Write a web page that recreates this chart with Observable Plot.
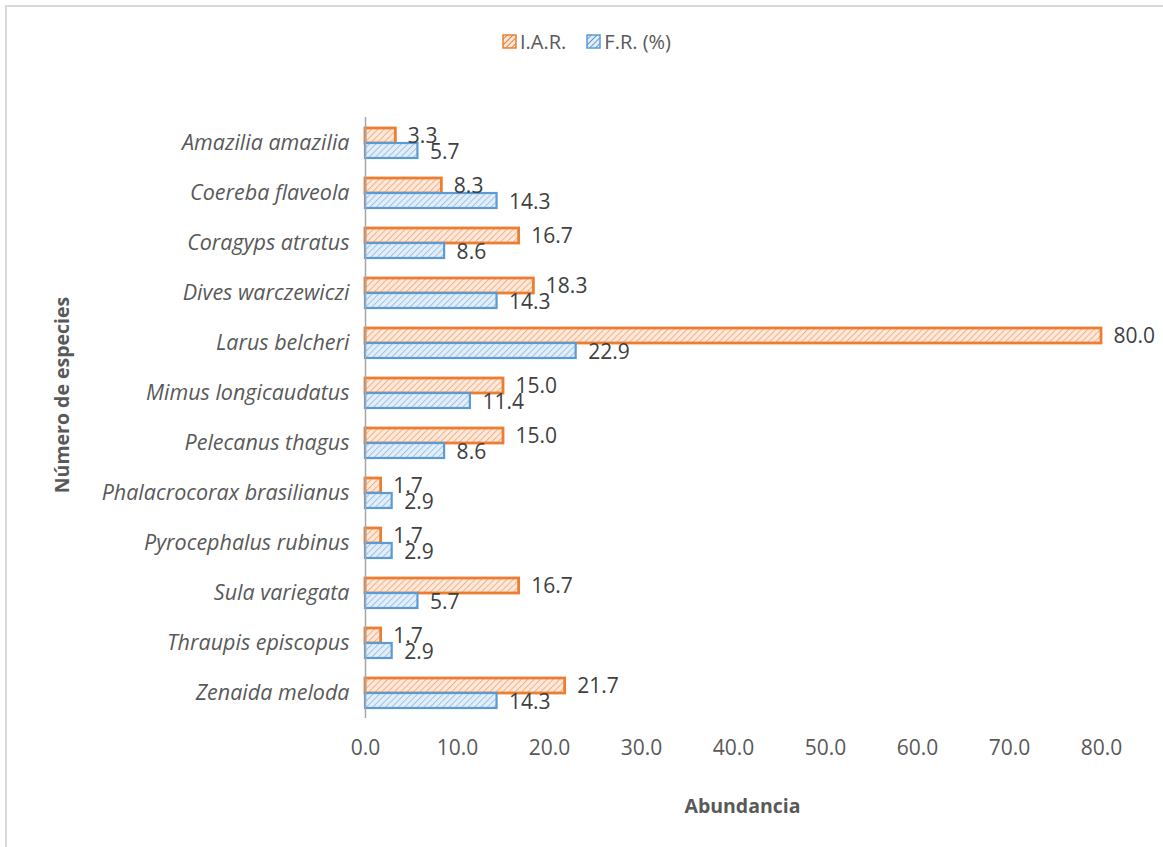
<!DOCTYPE html>
<html>
<head>
<meta charset="utf-8">
<script src="https://cdn.jsdelivr.net/npm/d3@7"></script>
<script src="https://cdn.jsdelivr.net/npm/@observablehq/plot@0.6"></script>
<style>
  body { margin: 0; background: #fff; font-family: "Open Sans", sans-serif; }
  #wrap { position: relative; width: 1163px; height: 847px; overflow: hidden; }
  #border { position: absolute; left: 5px; top: 5px; right: -10px; bottom: -10px; border-left: 2px solid #d9d9d9; border-top: 2px solid #d9d9d9; }
  #legend { position: absolute; top: 28px; left: 0; width: 1163px; display: flex; justify-content: center; gap: 20px; font-size: 20px; color: #595959; padding-left: 10px; box-sizing: border-box; }
  .item { display: flex; align-items: center; gap: 3px; }
  #chart { position: absolute; top: 80px; left: 0; }
</style>
</head>
<body>
<div id="wrap">
  <div id="border"></div>
  <div id="legend"></div>
  <div id="chart"></div>
</div>
<script>
const species = ["Amazilia amazilia","Coereba flaveola","Coragyps atratus","Dives warczewiczi","Larus belcheri","Mimus longicaudatus","Pelecanus thagus","Phalacrocorax brasilianus","Pyrocephalus rubinus","Sula variegata","Thraupis episcopus","Zenaida meloda"];
const series = ["I.A.R.", "F.R. (%)"];
const iar = [3.3, 8.3, 16.7, 18.3, 80.0, 15.0, 15.0, 1.7, 1.7, 16.7, 1.7, 21.7];
const fr  = [5.7, 14.3, 8.6, 14.3, 22.9, 11.4, 8.6, 2.9, 2.9, 5.7, 2.9, 14.3];
const xTicks = [0, 10, 20, 30, 40, 50, 60, 70, 80];
const xTitle = ["Abundancia"];
const yTitle = ["Número de especies"];

const colors = { "I.A.R.": { stroke: "#ED7D31", hatch: "#F4B183", bg: "#FCE9DC", id: "hatchO" },
                 "F.R. (%)": { stroke: "#5B9BD5", hatch: "#9DC3E6", bg: "#E3EEF8", id: "hatchB" } };

const dataO = species.map((s, i) => ({ species: s, series: series[0], value: iar[i] }));
const dataB = species.map((s, i) => ({ species: s, series: series[1], value: fr[i] }));

const chart = Plot.plot({
  width: 1163, height: 767,
  marginLeft: 365, marginRight: 62, marginTop: 37, marginBottom: 129,
  style: { fontFamily: "Open Sans, sans-serif", color: "#595959", background: "transparent", overflow: "visible" },
  x: { domain: [0, 80] },
  y: { domain: species, paddingInner: 0.4, paddingOuter: 0.2 },
  marks: [
    Plot.barX(dataO, { y: "species", x: "value", insetBottom: 15, fill: "url(#hatchO)", stroke: colors["I.A.R."].stroke, strokeWidth: 2.8 }),
    Plot.barX(dataB, { y: "species", x: "value", insetTop: 15, fill: "url(#hatchB)", stroke: colors["F.R. (%)"].stroke, strokeWidth: 2.2 }),
    Plot.text(dataO, { y: "species", x: "value", text: d => d.value.toFixed(1), dy: -7, dx: 12, textAnchor: "start", fontSize: 21, fill: "#404040" }),
    Plot.text(dataB, { y: "species", x: "value", text: d => d.value.toFixed(1), dy: 9, dx: 12, textAnchor: "start", fontSize: 21, fill: "#404040" }),
    Plot.ruleX([0], { stroke: "#a6a6a6", strokeWidth: 1.5 }),
    Plot.axisX({ ticks: xTicks, tickFormat: d => d.toFixed(1), tickSize: 0, tickPadding: 22, fontSize: 21, label: null }),
    Plot.axisY({ tickSize: 0, tickPadding: 16, fontSize: 21.5, fontStyle: "italic", label: null }),
    Plot.text(xTitle, { frameAnchor: "bottom", text: d => d, dy: 94, dx: 9, fontSize: 19.5, fontWeight: "bold", fill: "#595959" }),
    Plot.text(yTitle, { frameAnchor: "left", textAnchor: "middle", text: d => d, rotate: -90, dx: -303, dy: -23, fontSize: 19.5, fontWeight: "bold", fill: "#595959" })
  ]
});

// hatch patterns
const defs = d3.select(chart).insert("defs", ":first-child");
function addPattern(sel, id, color, bg, size, width) {
  const p = sel.append("pattern").attr("id", id).attr("patternUnits", "userSpaceOnUse")
    .attr("width", size).attr("height", size).attr("patternTransform", "rotate(45)");
  p.append("rect").attr("width", size).attr("height", size).attr("fill", bg);
  p.append("line").attr("x1", 0).attr("y1", 0).attr("x2", 0).attr("y2", size)
    .attr("stroke", color).attr("stroke-width", width);
}
addPattern(defs, "hatchO", colors["I.A.R."].hatch, colors["I.A.R."].bg, 4.5, 2);
addPattern(defs, "hatchB", colors["F.R. (%)"].hatch, colors["F.R. (%)"].bg, 4.5, 2);
document.getElementById("chart").append(chart);

// legend
const legend = d3.select("#legend");
series.forEach(s => {
  const it = legend.append("div").attr("class", "item");
  const sv = it.append("svg").attr("width", 15).attr("height", 15);
  const d2 = sv.append("defs");
  addPattern(d2, colors[s].id + "L", colors[s].stroke, colors[s].bg, 4, 2);
  sv.append("rect").attr("x", 1).attr("y", 1).attr("width", 13).attr("height", 13)
    .attr("fill", `url(#${colors[s].id}L)`).attr("stroke", colors[s].stroke).attr("stroke-width", 1.5);
  it.append("span").text(s);
});
</script>
</body>
</html>
